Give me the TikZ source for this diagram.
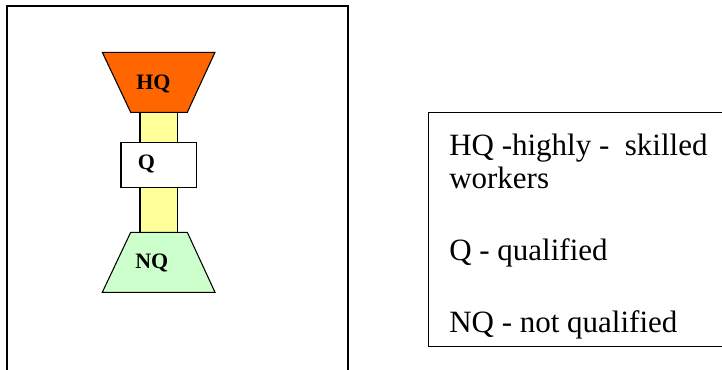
\documentclass[tikz,border=0pt]{standalone}
\usepackage{fontspec}
\setmainfont{Liberation Serif}
\definecolor{hqorange}{HTML}{FF6600}
\definecolor{baryellow}{HTML}{FFFF99}
\definecolor{nqgreen}{HTML}{CCFFCC}
\tikzset{
  shapeline/.style={draw=black,line width=0.8pt,line join=miter},
  shapelabel/.style={anchor=base west,inner sep=0pt,font=\fontsize{16.5pt}{18pt}\selectfont\bfseries},
  legendtext/.style={anchor=base west,inner sep=0pt,font=\fontsize{23.25pt}{27pt}\selectfont},
  frameline/.style={draw=black,line width=0.9pt}
}
\begin{document}
\begin{tikzpicture}[x=0.75pt,y=-0.75pt]
\useasboundingbox (0,0) rectangle (722,369);
% outer frame (open at bottom)
\draw[frameline] (7,375) -- (7,6) -- (348,6) -- (348,375);
% connecting bar
\filldraw[shapeline,fill=baryellow] (140,112.3) rectangle (177.7,232.3);
% HQ trapezoid
\filldraw[shapeline,fill=hqorange] (102.3,52.3) -- (215,52.3) -- (187.3,112.3) -- (130.7,112.3) -- cycle;
% Q box
\filldraw[shapeline,fill=white] (121,142.3) rectangle (196.3,187.3);
% NQ trapezoid
\filldraw[shapeline,fill=nqgreen] (130.7,232.3) -- (187.3,232.3) -- (215,292.3) -- (102.3,292.3) -- cycle;
% labels
\node[shapelabel] (hq) at (136,89.3) {HQ};
\node[shapelabel] (q) at (137.5,169) {Q};
\node[shapelabel] (nq) at (135,268.3) {NQ};
% legend box (open at right)
\draw[frameline] (725,112.7) -- (428.3,112.7) -- (428.3,346.7) -- (725,346.7);
\node[legendtext] (leg1) at (449,155) {HQ -highly -\ \ skilled};
\node[legendtext] (leg2) at (449,188) {workers};
\node[legendtext] (leg3) at (449,260) {Q - qualified};
\node[legendtext] (leg4) at (449,332) {NQ - not qualified};
\end{tikzpicture}
\end{document}
